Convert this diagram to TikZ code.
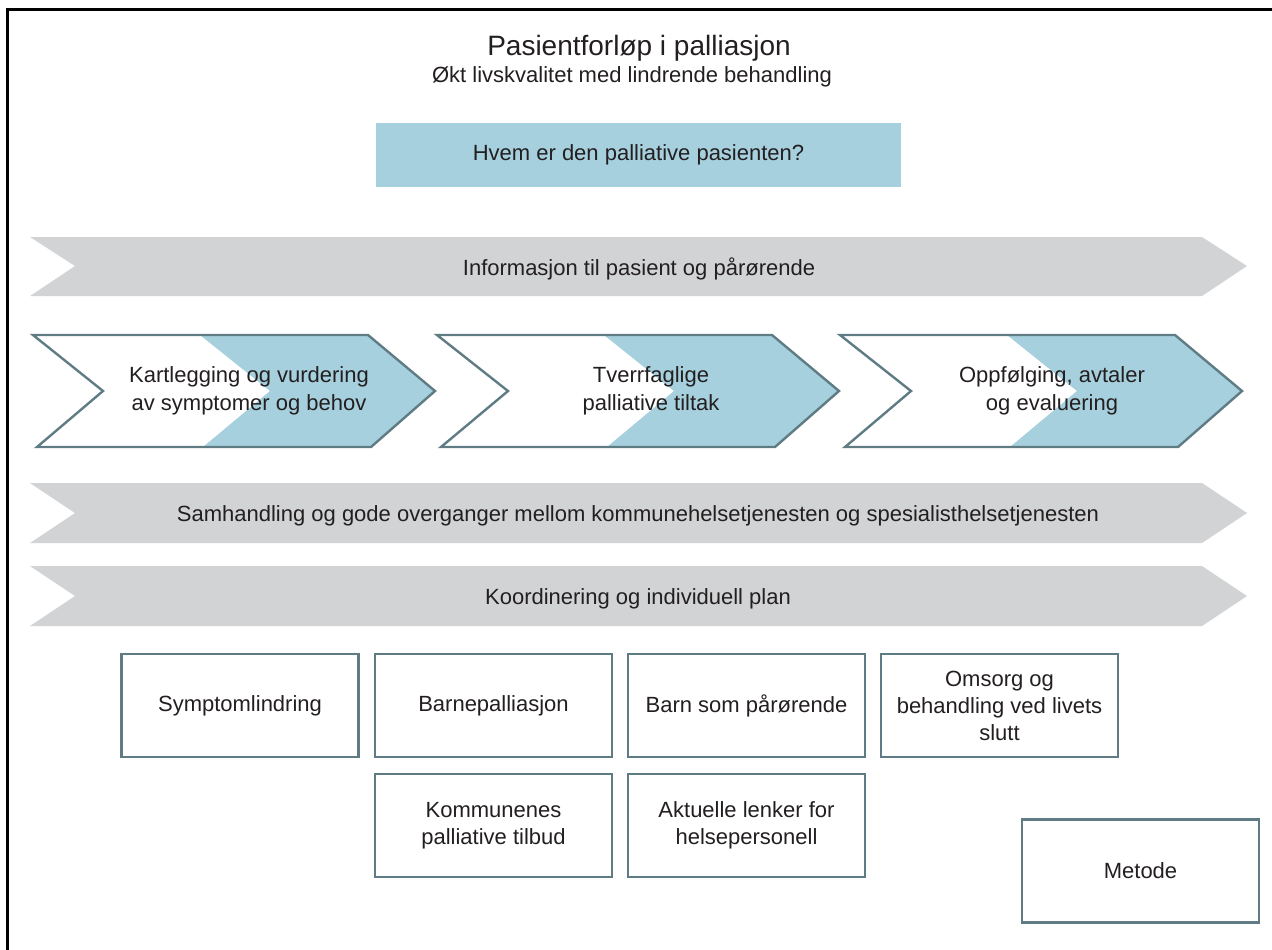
\documentclass[tikz,border=0pt]{standalone}
\usepackage{fontspec}
\setmainfont{Liberation Sans}
\usepackage{tikz}
\usetikzlibrary{calc}
\definecolor{bleuclair}{RGB}{166,208,221}
\definecolor{grisclair}{RGB}{209,211,212}
\definecolor{ardoise}{RGB}{95,124,133}
\definecolor{texte}{RGB}{35,31,32}

\tikzset{
  etiquette/.style={align=center, text=texte, font=\fontsize{11}{13.5}\selectfont, inner sep=0pt},
  boite/.style={etiquette, draw=ardoise, line width=1.2pt, fill=white, minimum width=118.5pt, minimum height=51.5pt},
}

\begin{document}
\begin{tikzpicture}[x=0.5pt, y=-0.5pt]
    \useasboundingbox (0,0) rectangle (1272,949);

    % Cadre
    \draw[line width=1.5pt] (7,960) -- (7,9) -- (1285,9);

    % Titre
    \node[etiquette, font=\fontsize{14}{17}\selectfont] (titre) at (639,48.5) {Pasientforløp i palliasjon};
    \node[etiquette] (soustitre) at (632,77) {Økt livskvalitet med lindrende behandling};

    % Qui est le patient
    \node[etiquette, fill=bleuclair, minimum width=262.5pt, minimum height=32pt] (patient) at (638.5,155) {Hvem er den palliative pasienten?};

    % Bande grise : information
    \fill[grisclair] (30,237) -- (1202,237) -- (1247,266) -- (1202,296) -- (30,296) -- (75,266) -- cycle;
    \node[etiquette] (info) at (639,269) {Informasjon til pasient og pårørende};

    % Chevron 1
    \fill[bleuclair] (200,335) -- (368,335) -- (435,391) -- (371,447) -- (203,447) -- (270,391) -- cycle;
    \draw[ardoise, line width=1.2pt] (33,335) -- (368,335) -- (435,391) -- (371,447) -- (37,447) -- (103,391) -- cycle;
    \node[etiquette, font=\fontsize{11}{14}\selectfont] (kartlegging) at (249,390.5) {Kartlegging og vurdering\\av symptomer og behov};

    % Chevron 2
    \fill[bleuclair] (604,335) -- (772,335) -- (839,391) -- (775,447) -- (607,447) -- (674,391) -- cycle;
    \draw[ardoise, line width=1.2pt] (437,335) -- (772,335) -- (839,391) -- (775,447) -- (441,447) -- (508,391) -- cycle;
    \node[etiquette, font=\fontsize{11}{14}\selectfont] (tiltak) at (651,390.5) {Tverrfaglige\\palliative tiltak};

    % Chevron 3
    \fill[bleuclair] (1007,335) -- (1175,335) -- (1242,391) -- (1178,447) -- (1010,447) -- (1077,391) -- cycle;
    \draw[ardoise, line width=1.2pt] (840,335) -- (1175,335) -- (1242,391) -- (1178,447) -- (845,447) -- (911,391) -- cycle;
    \node[etiquette, font=\fontsize{11}{14}\selectfont] (oppfolging) at (1052,390.5) {Oppfølging, avtaler\\og evaluering};

    % Bande grise : samhandling
    \fill[grisclair] (30,483) -- (1202,483) -- (1247,513) -- (1202,543) -- (30,543) -- (75,513) -- cycle;
    \node[etiquette] (samhandling) at (638,516) {Samhandling og gode overganger mellom kommunehelsetjenesten og spesialisthelsetjenesten};

    % Bande grise : koordinering
    \fill[grisclair] (30,566) -- (1202,566) -- (1247,596) -- (1202,626) -- (30,626) -- (75,596) -- cycle;
    \node[etiquette] (koordinering) at (638,599) {Koordinering og individuell plan};

    % Boites du bas
    \node[boite] (symptom) at (240,705.5) {Symptomlindring};
    \node[boite] (barnepall) at (493.5,705.5) {Barnepalliasjon};
    \node[boite] (barnparorende) at (746.5,705.5) {Barn som pårørende};
    \node[boite] (omsorg) at (999.5,705.5) {Omsorg og\\behandling ved livets\\slutt};
    \node[boite] (kommunenes) at (493.5,825.5) {Kommunenes\\palliative tilbud};
    \node[boite] (lenker) at (746.5,825.5) {Aktuelle lenker for\\helsepersonell};

    % Metode
    \node[boite] (metode) at (1140.5,871) {Metode};
\end{tikzpicture}
\end{document}
